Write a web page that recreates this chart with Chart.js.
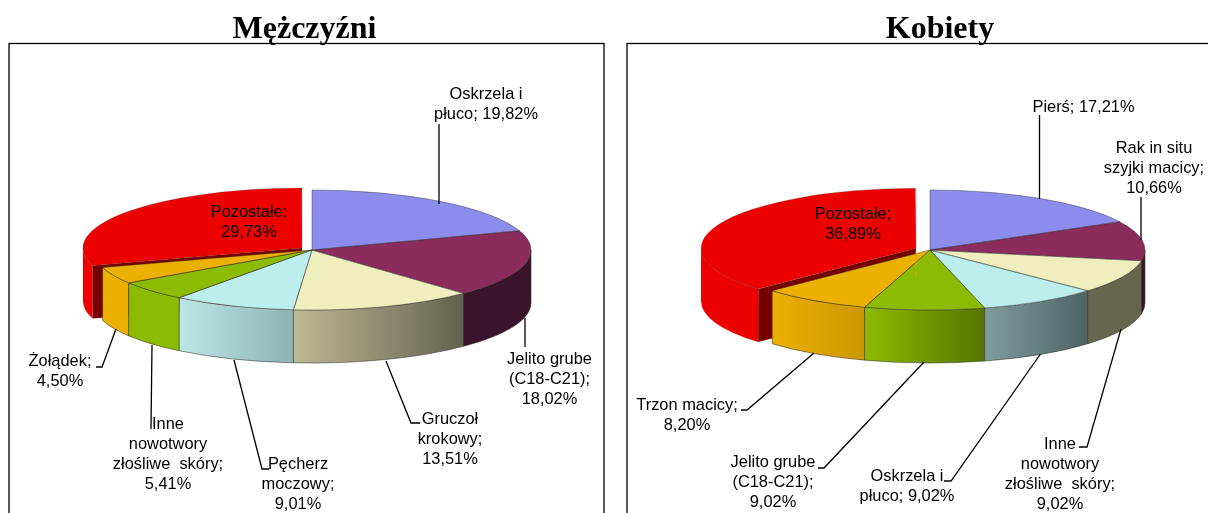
<!DOCTYPE html>
<html lang="pl">
<head>
<meta charset="utf-8">
<title>Mężczyźni / Kobiety</title>
<script src="https://cdn.jsdelivr.net/npm/chart.js@4"></script>
<style>
html,body{margin:0;padding:0;background:#fff;overflow:hidden;width:1208px;height:513px}
canvas{position:absolute;top:0;filter:blur(0.3px)}
#c1{left:0}
#c2{left:615px}
</style>
</head>
<body>
<canvas id="c1" width="615" height="513"></canvas>
<canvas id="c2" width="593" height="513"></canvas>
<script>
// ---------- data ----------
const maleCategories = ['Oskrzela i płuco','Jelito grube (C18-C21)','Gruczoł krokowy','Pęcherz moczowy','Inne nowotwory złośliwe skóry','Żołądek','Pozostałe'];
const maleValues = [19.82,18.02,13.51,9.01,5.41,4.50,29.73];
const femaleCategories = ['Pierś','Rak in situ szyjki macicy','Inne nowotwory złośliwe skóry','Oskrzela i płuco','Jelito grube (C18-C21)','Trzon macicy','Pozostałe'];
const femaleValues = [17.21,10.66,9.02,9.02,9.02,8.20,36.89];

// ---------- styles ----------
const topColors = ['#8c8cec','#8b2c5c','#eeeebe','#bceeee','#8cbc00','#ecb000','#ec0000'];
const maleWalls = [null,['#3a1428','#3a1428'],['#bdb995','#63624e'],['#bce6e6','#8fb3b3'],['#8cbc00','#8cbc00'],['#ecb000','#ecb000'],['#ec0000','#ec0000']];
const femaleWalls = [null,['#3c1428','#3c1428'],['#66664f','#66664f'],['#7f9c9c','#4e6464'],['#8cbc00','#567400'],['#ecb000','#cc9600'],['#ec0000','#ec0000']];
const maleOffsets = [0,0,0,0,0,0,50];
const femaleOffsets = [0,0,0,0,0,0,61];

// ---------- annotation layout (canvas coordinates of each chart) ----------
const maleNotes = [
  {x:486,y:94,lines:['Oskrzela i','płuco; {v}'],leader:[[439,124],[439,204]]},
  {x:549.5,y:359,lines:['Jelito grube','(C18-C21);','{v}'],leader:[[525,347],[525,318]]},
  {x:450,y:419,lines:['Gruczoł','krokowy;','{v}'],leader:[[420,423],[411,423],[386,361]]},
  {x:298,y:464,lines:['Pęcherz','moczowy;','{v}'],leader:[[269,469],[262,469],[234,360]]},
  {x:168,y:424,lines:['Inne','nowotwory','złośliwe  skóry;','{v}'],leader:[[151,429],[152,345]]},
  {x:60,y:361,lines:['Żołądek;','{v}'],leader:[[96,367],[102,367],[116,329]]},
  {x:249,y:212,lines:['Pozostałe;','{v}'],leader:null}
];
const femaleNotes = [
  {x:468.5,y:107,lines:['Pierś; {v}'],leader:[[424.5,115],[424.5,199]]},
  {x:539,y:148,lines:['Rak in situ','szyjki macicy;','{v}'],leader:[[526,197],[526,240]]},
  {x:445,y:444,lines:['Inne','nowotwory','złośliwe  skóry;','{v}'],leader:[[464,447],[472,447],[506,329]]},
  {x:292,y:476,lines:['Oskrzela i','płuco; {v}'],leader:[[329,481],[336,481],[425.5,354]]},
  {x:158,y:462,lines:['Jelito grube','(C18-C21);','{v}'],leader:[[203,468],[209,468],[309,362]]},
  {x:72,y:405,lines:['Trzon macicy;','{v}'],leader:[[126,410],[132,410],[199,353]]},
  {x:238,y:214,lines:['Pozostałe;','{v}'],leader:null,accent:[[301,250],[301,277]]}
];

const fmt = v => v.toFixed(2).replace('.', ',') + '%';

// ---------- 3-D pie plugin: squashes the library's arcs and extrudes them ----------
const pie3d = {
  id: 'pie3d',
  afterDatasetsUpdate(chart) {
    // Arc.draw() grows an exploded slice's radius; cancel that so it keeps the pie's radius
    chart.getDatasetMeta(0).data.forEach(a => {
      const off = (a.options.offset || 0) / 4;
      if (off > 0) {
        const fix = 1 - Math.sin(Math.min(Math.PI, a.circumference || 0));
        a.outerRadius -= off * fix;
        a.baseRadius = a.outerRadius + off * fix;
      } else {
        a.baseRadius = a.outerRadius;
      }
    });
  },
  beforeDraw(chart, args, o) {
    const c = chart.ctx;
    c.save();
    c.fillStyle = '#fff';
    c.fillRect(0, 0, chart.width, chart.height);
    c.strokeStyle = '#000';
    c.lineWidth = 1.3;
    c.strokeRect(o.frame[0], o.frame[1], o.frame[2], o.frame[3]);
    c.fillStyle = '#000';
    c.font = 'bold 32px "Liberation Serif"';
    c.textAlign = 'center';
    c.textBaseline = 'alphabetic';
    c.fillText(o.title, o.titleX, 38);
    c.restore();
  },
  beforeDatasetsDraw(chart, args, o) {
    const c = chart.ctx;
    const arcs = chart.getDatasetMeta(0).data;
    const order = arcs.map((a, i) => i).reverse();
    order.forEach(i => {
      const a = arcs[i];
      const wall = o.walls[i];
      const r = a.baseRadius;
      const b = r * o.squash;
      const mid = (a.startAngle + a.endAngle) / 2;
      const off = (a.options.offset || 0) / 4;
      const x = a.x + Math.cos(mid) * off;
      const y = a.y + Math.sin(mid) * off * o.squash;
      const exploded = off > 0;
      const s = Math.max(a.startAngle, 0);
      const e = Math.min(a.endAngle, Math.PI);
      if (wall && s < e) {
        const x0 = x + Math.cos(s) * r;
        const x1 = x + Math.cos(e) * r;
        const g = c.createLinearGradient(Math.min(x0, x1), 0, Math.max(x0, x1), 0);
        g.addColorStop(0, wall[0]);
        g.addColorStop(1, wall[1]);
        c.beginPath();
        c.ellipse(x, y, r, b, 0, s, e);
        c.ellipse(x, y + o.depth, r, b, 0, e, s, true);
        c.closePath();
        c.fillStyle = g;
        c.fill();
        if (!exploded) {
          c.strokeStyle = 'rgba(50,50,40,0.8)';
          c.lineWidth = 0.7;
          c.stroke();
        }
      }
      if (exploded) {
        // exposed cut face of the exploded slice
        const ex = x + Math.cos(a.startAngle) * r;
        const ey = y + Math.sin(a.startAngle) * b;
        c.beginPath();
        c.moveTo(x, y);
        c.lineTo(ex, ey);
        c.lineTo(ex, ey + o.depth);
        c.lineTo(x, y + o.depth);
        c.closePath();
        c.fillStyle = '#760000';
        c.fill();
      }
    });
    c.save();
    const cx = arcs[0].x, cy = arcs[0].y;
    c.translate(cx, cy);
    c.scale(1, o.squash);
    c.translate(-cx, -cy);
  },
  afterDatasetsDraw(chart, args, o) {
    const c = chart.ctx;
    c.restore();
    const arcs = chart.getDatasetMeta(0).data;
    arcs.forEach(a => {
      const r = a.baseRadius, b = r * o.squash;
      const mid = (a.startAngle + a.endAngle) / 2;
      const off = (a.options.offset || 0) / 4;
      const x = a.x + Math.cos(mid) * off;
      const y = a.y + Math.sin(mid) * off * o.squash;
      c.beginPath();
      c.moveTo(x, y);
      c.ellipse(x, y, r, b, 0, a.startAngle, a.endAngle);
      c.closePath();
      c.strokeStyle = off > 0 ? 'rgba(70,40,40,0.35)' : 'rgba(50,50,50,0.6)';
      c.lineWidth = 0.7;
      c.stroke();
    });
    // leaders and labels
    const values = chart.data.datasets[0].data;
    c.save();
    c.font = o.font;
    c.textAlign = 'center';
    c.textBaseline = 'middle';
    c.fillStyle = '#000';
    o.notes.forEach((n, i) => {
      if (n.accent) {
        c.beginPath();
        n.accent.forEach((p, k) => k ? c.lineTo(p[0], p[1]) : c.moveTo(p[0], p[1]));
        c.strokeStyle = '#e0a030';
        c.lineWidth = 0.7;
        c.stroke();
      }
      if (n.leader) {
        c.beginPath();
        n.leader.forEach((p, k) => k ? c.lineTo(p[0], p[1]) : c.moveTo(p[0], p[1]));
        c.strokeStyle = '#000';
        c.lineWidth = 1.3;
        c.stroke();
      }
      n.lines.forEach((t, k) => {
        c.save();
        c.translate(n.x, n.y + k * 20);
        c.scale(o.textStretch, 1);
        c.fillText(t.replace('{v}', fmt(values[i])), 0, 0);
        c.restore();
      });
    });
    c.restore();
  }
};

function build(id, labels, values, offsets, walls, notes, cfg) {
  return new Chart(document.getElementById(id), {
    type: 'pie',
    data: { labels, datasets: [{ data: values, backgroundColor: topColors, borderWidth: 0, offset: offsets, clip: false }] },
    options: {
      responsive: false,
      animation: false,
      events: [],
      radius: cfg.radius,
      layout: { padding: { left: cfg.padLeft, right: 0, top: 0, bottom: 13 } },
      plugins: {
        legend: { display: false },
        tooltip: { enabled: false },
        pie3d: { walls, notes, squash: 60 / cfg.radius, depth: 53, title: cfg.title, titleX: cfg.titleX, frame: cfg.frame, font: '17px "Liberation Sans"', textStretch: 0.965 }
      }
    },
    plugins: [pie3d]
  });
}

build('c1', maleCategories, maleValues, maleOffsets, maleWalls, maleNotes,
  { radius: 219, padLeft: 9, title: 'Mężczyźni', titleX: 304.5, frame: [9, 43.5, 595, 480] });
build('c2', femaleCategories, femaleValues, femaleOffsets, femaleWalls, femaleNotes,
  { radius: 215, padLeft: 37, title: 'Kobiety', titleX: 325, frame: [12, 43.5, 620, 480] });
</script>
</body>
</html>
